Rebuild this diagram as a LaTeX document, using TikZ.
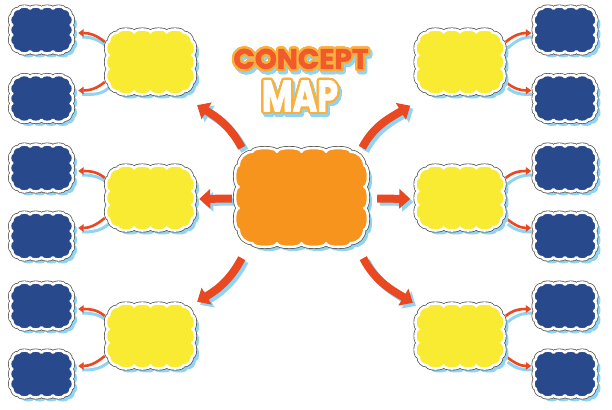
\documentclass[tikz,border=0pt]{standalone}
\usepackage{fontspec}
\usepackage[copies]{contour}
\usetikzlibrary{arrows.meta}
\newfontfamily\titlefont{Poppins}[BoldFeatures={FakeBold=2}]
\definecolor{coreorange}{HTML}{F7941E}
\definecolor{lemon}{HTML}{F8EB32}
\definecolor{navy}{HTML}{284A8C}
\definecolor{arrowred}{HTML}{EA4820}
\definecolor{skyshade}{HTML}{8FD4F4}
\definecolor{rim}{HTML}{4A4A4A}
\definecolor{titlered}{HTML}{F15A2B}
\definecolor{titlegold}{HTML}{FBB03B}
\contourlength{2.2pt}
\contournumber{32}

\begin{document}
\begin{tikzpicture}[x=1pt,y=1pt,line join=round,
  cloud outline/.style n args={5}{insert path={
    ({-#1+0.3*#2},#2)
    \foreach \k in {1,...,#3}{.. controls +(0,#5) and +(0,#5) .. ++({(2*#1-0.6*#2)/#3},0)}
    .. controls +({0.1656*#2},0) and +(0,{0.1656*#2}) .. ++({0.3*#2},{-0.3*#2})
    \foreach \k in {1,...,#4}{.. controls +(#5,0) and +(#5,0) .. ++(0,{-1.4*#2/#4})}
    .. controls +(0,{-0.1656*#2}) and +({0.1656*#2},0) .. ++({-0.3*#2},{-0.3*#2})
    \foreach \k in {1,...,#3}{.. controls +(0,-#5) and +(0,-#5) .. ++({-(2*#1-0.6*#2)/#3},0)}
    .. controls +({-0.1656*#2},0) and +(0,{-0.1656*#2}) .. ++({-0.3*#2},{0.3*#2})
    \foreach \k in {1,...,#4}{.. controls +(-#5,0) and +(-#5,0) .. ++(0,{1.4*#2/#4})}
    .. controls +(0,{0.1656*#2}) and +({-0.1656*#2},0) .. ++({0.3*#2},{0.3*#2})
    -- cycle}},
  pics/cloud/.style n args={6}{code={
    \path[fill=skyshade,shift={(4,-4)},cloud outline={#1}{#2}{#3}{#4}{#5}];
    \path[draw=rim,line width=4pt,cloud outline={#1}{#2}{#3}{#4}{#5}];
    \path[draw=white,line width=2.6pt,fill=#6,cloud outline={#1}{#2}{#3}{#4}{#5}];
  }},
  blue spot/.style={minimum width=63pt,minimum height=47pt,inner sep=0pt},
  yellow spot/.style={minimum width=89pt,minimum height=65pt,inner sep=0pt},
  core spot/.style={minimum width=133pt,minimum height=99pt,inner sep=0pt},
  big arrow/.style={line width=8pt,draw=arrowred,-{Triangle[width=19pt,length=11pt]}},
  big shade/.style={big arrow,draw=skyshade,transform canvas={shift={(3,-3)}}},
  twig/.style={line width=2.6pt,draw=arrowred,-{Triangle[width=7.5pt,length=5.5pt]}},
  twig shade/.style={line width=3pt,draw=skyshade,transform canvas={shift={(3,-4)}}},
  title text/.style={font=\titlefont\bfseries\fontsize{28}{28}\selectfont,inner sep=0pt},
  map text/.style={font=\titlefont\bfseries\fontsize{44}{44}\selectfont,inner sep=0pt}]
  \useasboundingbox[fill=white] (0,0) rectangle (612,409);
  % ---- places of the clouds -----------------------------------------------
  \node[core spot] (core) at (301.5,211.5) {};
  \node[yellow spot] (y1) at (150.5,347) {};
  \node[yellow spot] (y2) at (150.5,211) {};
  \node[yellow spot] (y3) at (150.5,73) {};
  \node[yellow spot] (y4) at (460,347) {};
  \node[yellow spot] (y5) at (460,211) {};
  \node[yellow spot] (y6) at (460,73) {};
  \node[blue spot] (b1) at (41.5,379) {};
  \node[blue spot] (b2) at (41.5,310.5) {};
  \node[blue spot] (b3) at (41.5,241) {};
  \node[blue spot] (b4) at (41.5,173) {};
  \node[blue spot] (b5) at (41.5,103) {};
  \node[blue spot] (b6) at (41.5,35) {};
  \node[blue spot] (b7) at (565,379) {};
  \node[blue spot] (b8) at (565,310.5) {};
  \node[blue spot] (b9) at (565,241) {};
  \node[blue spot] (b10) at (565,173) {};
  \node[blue spot] (b11) at (565,103) {};
  \node[blue spot] (b12) at (565,35) {};
  % ---- big arrows out of the core -----------------------------------------
  \foreach \s in {big shade,big arrow}{
    \draw[\s] ([shift={(7,0)}]core.north west) to[out=118,in=-31] ([shift={(2,-10.5)}]y1.south east);
    \draw[\s] ([shift={(-6,0)}]core.north east) to[out=62,in=211] ([shift={(-5,-11)}]y4.south west);
    \draw[\s] ([shift={(-3,-1)}]core.west) -- ([shift={(4,-1)}]y2.east);
    \draw[\s] ([shift={(9,-1)}]core.east) -- ([shift={(-5,-1)}]y5.west);
    \draw[\s] ([shift={(7,-11)}]core.south west) to[out=-118,in=31] ([shift={(2,1.5)}]y3.north east);
    \draw[\s] ([shift={(-5,-11)}]core.south east) to[out=-62,in=149] ([shift={(-2.5,0.5)}]y6.north west);
  }
  % ---- small arrows out of the yellow clouds ------------------------------
  \foreach \y/\u/\d in {y1/b1/b2,y2/b3/b4,y3/b5/b6}{
    \draw[twig shade] ([shift={(0,18)}]\y.west) to[out=140,in=0] ([shift={(6,-3)}]\u.east);
    \draw[twig shade] ([shift={(0,-22)}]\y.west) to[out=-140,in=0] ([shift={(6,8)}]\d.east);
    \draw[twig] ([shift={(-1,20)}]\y.west) to[out=140,in=0] ([shift={(5,-3)}]\u.east);
    \draw[twig] ([shift={(-1,-20)}]\y.west) to[out=-140,in=0] ([shift={(5,8)}]\d.east);
  }
  \foreach \y/\u/\d in {y4/b7/b8,y5/b9/b10,y6/b11/b12}{
    \draw[twig shade] ([shift={(0,18)}]\y.east) to[out=40,in=180] ([shift={(-4,-3)}]\u.west);
    \draw[twig shade] ([shift={(0,-22)}]\y.east) to[out=-40,in=180] ([shift={(-4,8)}]\d.west);
    \draw[twig] ([shift={(1,20)}]\y.east) to[out=40,in=180] ([shift={(-2,-3)}]\u.west);
    \draw[twig] ([shift={(1,-20)}]\y.east) to[out=-40,in=180] ([shift={(-2,8)}]\d.west);
  }
  % ---- clouds --------------------------------------------------------------
  \foreach \i in {1,...,12}
    \pic at (b\i) {cloud={29.25}{21.25}{4}{3}{3}{navy}};
  \foreach \i in {1,...,6}
    \pic at (y\i) {cloud={41.5}{29.5}{4}{3}{4}{lemon}};
  \pic at (core) {cloud={62.75}{45.75}{4}{3}{5}{coreorange}};
  % ---- title ---------------------------------------------------------------
  \node[title text,text=skyshade] (concept shade) at (303,346) {\contour{skyshade}{CONCEPT}};
  \node[map text,text=skyshade] (map shade) at (302,309) {\contour{skyshade}{\scalebox{0.76}[1]{MAP}}};
  \node[title text,text=titlered] (concept) at (301,349) {\contour{titlegold}{CONCEPT}};
  \node[map text,text=white] (map) at (300,312) {\contour{titlegold}{\scalebox{0.76}[1]{MAP}}};
\end{tikzpicture}
\end{document}
